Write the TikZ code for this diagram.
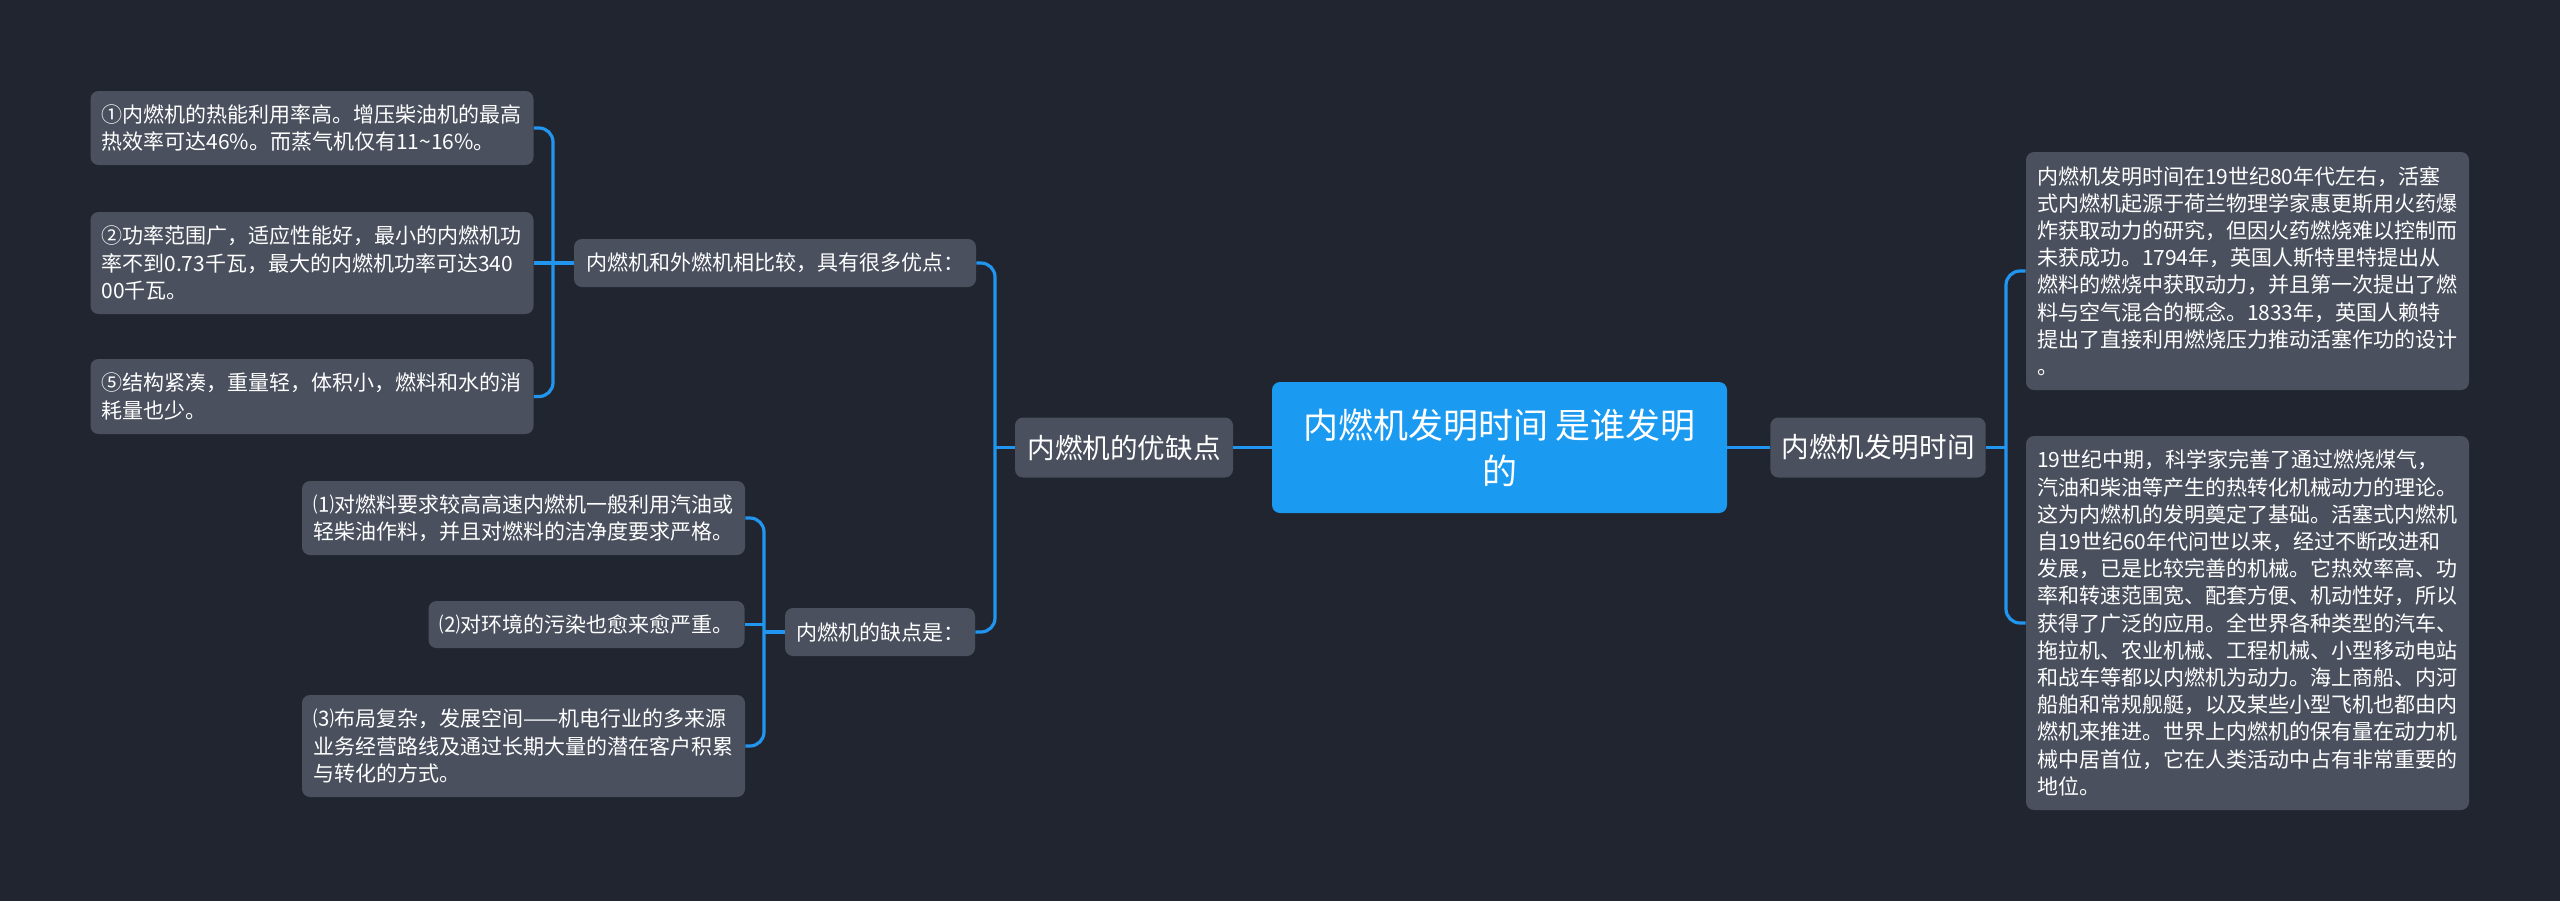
\documentclass[tikz,border=0pt]{standalone}
\usepackage{fontspec}
\setmainfont{Noto Sans CJK SC}
\usepackage{tikz}
\definecolor{bgdark}{HTML}{21252F}
\definecolor{boxgray}{HTML}{4A505E}
\definecolor{rootblue}{HTML}{1A9AF0}
\definecolor{linkblue}{HTML}{2196F0}

\begin{document}
\begin{tikzpicture}[x=0.5pt,y=-0.5pt,
  topic/.style={fill=boxgray,rounded corners=4pt,text=white,inner xsep=5.5pt,inner ysep=0pt},
  leaf/.style={topic,font=\fontsize{10.5}{13.6}\selectfont,align=left,text width=210.5pt},
  subtopic/.style={topic,font=\fontsize{10.5}{13.6}\selectfont,minimum height=24pt},
  branch/.style={topic,font=\fontsize{13.8}{16}\selectfont,minimum height=30pt},
  rootbox/.style={fill=rootblue,rounded corners=4pt,text=white,align=center,
    font=\fontsize{17.5}{23}\selectfont,minimum width=227.5pt,minimum height=65.5pt},
  link/.style={draw=linkblue,line width=1.6pt,rounded corners=7pt}]
\pgfmathsetmacro{\xja}{995}
\pgfmathsetmacro{\xjb}{553}
\pgfmathsetmacro{\xjc}{764}
\pgfmathsetmacro{\xjr}{2006}
\fill[bgdark] (0,0) rectangle (2560,901);
% centre and first level
\node[rootbox] (root) at (1499.5,447.5) {内燃机发明时间 是谁发明\\的};
\node[branch,minimum width=109pt] (a) at (1124,447.5) {内燃机的优缺点};
\node[branch,minimum width=107pt] (r) at (1878,447.5) {内燃机发明时间};
% left side
\node[subtopic,minimum width=201pt] (b1) at (775,263) {内燃机和外燃机相比较，具有很多优点：};
\node[subtopic,minimum width=95pt] (b2) at (880,632) {内燃机的缺点是：};
\node[leaf,minimum height=37pt] (c1) at (312,128) {①内燃机的热能利用率高。增压柴油机的最高\\热效率可达46\%。而蒸气机仅有11\textasciitilde16\%。};
\node[leaf,minimum height=51pt] (c2) at (312,263) {②功率范围广，适应性能好，最小的内燃机功\\率不到0.73千瓦，最大的内燃机功率可达340\\00千瓦。};
\node[leaf,minimum height=37.5pt] (c3) at (312,396.5) {⑤结构紧凑，重量轻，体积小，燃料和水的消\\耗量也少。};
\node[leaf,minimum height=37pt] (d1) at (523.5,518) {⑴对燃料要求较高高速内燃机一般利用汽油或\\轻柴油作料，并且对燃料的洁净度要求严格。};
\node[subtopic,minimum width=157.5pt,minimum height=23.5pt] (d2) at (586.5,624.5) {⑵对环境的污染也愈来愈严重。};
\node[leaf,minimum height=51pt] (d3) at (523.5,746) {⑶布局复杂，发展空间——机电行业的多来源\\业务经营路线及通过长期大量的潜在客户积累\\与转化的方式。};
% right side
\node[leaf,minimum height=119pt] (e1) at (2247.5,271) {内燃机发明时间在19世纪80年代左右，活塞\\式内燃机起源于荷兰物理学家惠更斯用火药爆\\炸获取动力的研究，但因火药燃烧难以控制而\\未获成功。1794年，英国人斯特里特提出从\\燃料的燃烧中获取动力，并且第一次提出了燃\\料与空气混合的概念。1833年，英国人赖特\\提出了直接利用燃烧压力推动活塞作功的设计\\。};
\node[leaf,minimum height=187pt] (e2) at (2247.5,623) {19世纪中期，科学家完善了通过燃烧煤气，\\汽油和柴油等产生的热转化机械动力的理论。\\这为内燃机的发明奠定了基础。活塞式内燃机\\自19世纪60年代问世以来，经过不断改进和\\发展，已是比较完善的机械。它热效率高、功\\率和转速范围宽、配套方便、机动性好，所以\\获得了广泛的应用。全世界各种类型的汽车、\\拖拉机、农业机械、工程机械、小型移动电站\\和战车等都以内燃机为动力。海上商船、内河\\船舶和常规舰艇，以及某些小型飞机也都由内\\燃机来推进。世界上内燃机的保有量在动力机\\械中居首位，它在人类活动中占有非常重要的\\地位。};
% junctions
\coordinate (ja) at (\xja,447.5);
\coordinate (jb) at (\xjb,263);
\coordinate (jc) at (\xjc,632);
\coordinate (jr) at (\xjr,447.5);
% connectors
\draw[link] (root.west) -- (a.east);
\draw[link] (root.east) -- (r.west);
\draw[link] (a.west) -- (ja);
\draw[link] (b1.east) -| (ja) |- (b2.east);
\draw[link] (b1.west) -- (jb);
\draw[link] (c1.east) -| (jb) |- (c3.east);
\draw[link] (c2.east) -- (c2.east -| jb);
\draw[link] (b2.west) -- (jc);
\draw[link] (d1.east) -| (jc) |- (d3.east);
\draw[link] (d2.east) -- (d2.east -| jc);
\draw[link] (r.east) -- (jr);
\draw[link] (e1.west) -| (jr) |- (e2.west);
\end{tikzpicture}
\end{document}
